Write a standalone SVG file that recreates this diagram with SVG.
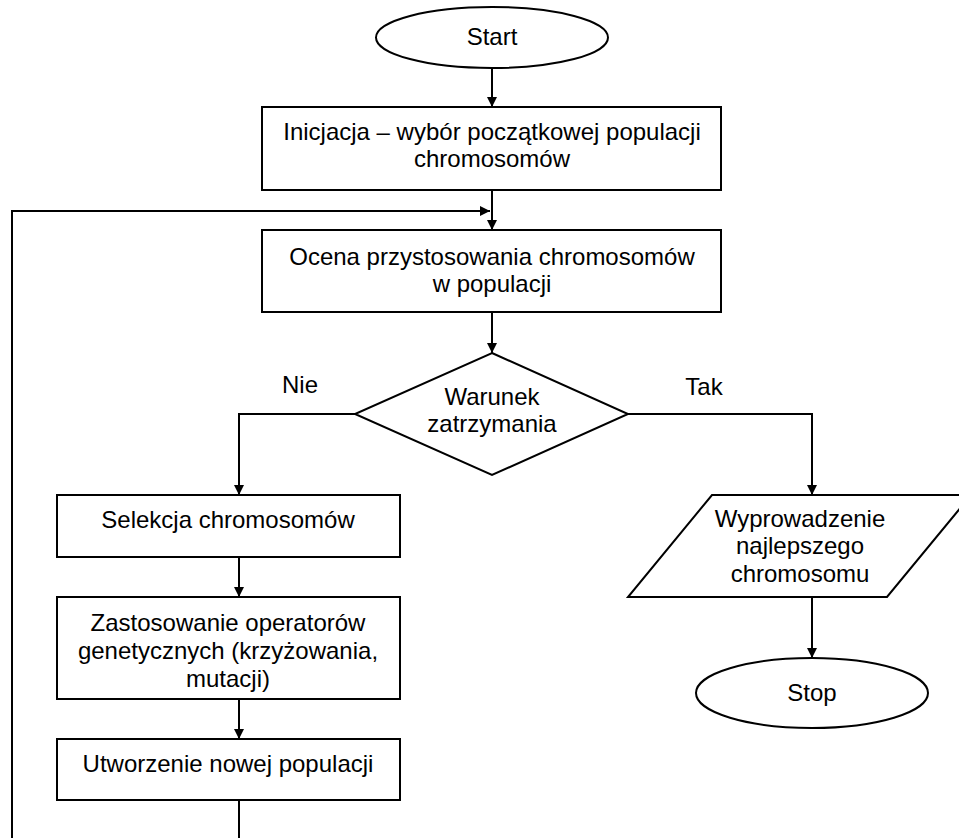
<svg xmlns="http://www.w3.org/2000/svg" width="959" height="838" viewBox="0 0 959 838">
<style>
.s{fill:#fff;stroke:#000;stroke-width:2}
.c{fill:none;stroke:#000;stroke-width:2}
text{font-family:"Liberation Sans",Arial,sans-serif;font-size:24px;fill:#000;text-anchor:middle}
</style>
<defs>
<marker id="a" viewBox="0 0 10 10" refX="10" refY="5" markerWidth="10" markerHeight="10" markerUnits="userSpaceOnUse" orient="auto">
<path d="M0,0 L10,5 L0,10 Z" fill="#000"/>
</marker>
</defs>
<rect width="959" height="838" fill="#fff"/>
<g id="connectors">
<line class="c" x1="492" y1="68" x2="492" y2="107" marker-end="url(#a)"/>
<line class="c" x1="492" y1="190" x2="492" y2="230" marker-end="url(#a)"/>
<polyline class="c" points="12,838 12,211 490,211" marker-end="url(#a)"/>
<line class="c" x1="492" y1="312" x2="492" y2="353" marker-end="url(#a)"/>
<polyline class="c" points="355,414 239,414 239,495" marker-end="url(#a)"/>
<polyline class="c" points="628,414 812,414 812,495" marker-end="url(#a)"/>
<line class="c" x1="239" y1="557" x2="239" y2="597" marker-end="url(#a)"/>
<line class="c" x1="239" y1="699" x2="239" y2="739" marker-end="url(#a)"/>
<line class="c" x1="239" y1="800" x2="239" y2="838"/>
<line class="c" x1="812" y1="597" x2="812" y2="658" marker-end="url(#a)"/>
<text x="300" y="393">Nie</text>
<text x="704" y="395">Tak</text>
</g>
<g id="start">
<ellipse class="s" cx="492" cy="37.5" rx="116" ry="30.5"/>
<text x="492" y="45">Start</text>
</g>
<g id="init">
<rect class="s" x="262" y="107" width="459" height="83"/>
<text x="492" y="140">Inicjacja – wybór początkowej populacji</text>
<text x="492" y="167">chromosomów</text>
</g>
<g id="ocena">
<rect class="s" x="262" y="230" width="459" height="82"/>
<text x="492" y="265">Ocena przystosowania chromosomów</text>
<text x="492" y="292">w populacji</text>
</g>
<g id="warunek">
<polygon class="s" points="492,353 628,414 492,475 355,414"/>
<text x="492" y="405">Warunek</text>
<text x="492" y="432">zatrzymania</text>
</g>
<g id="selekcja">
<rect class="s" x="57" y="495" width="343" height="62"/>
<text x="228" y="528">Selekcja chromosomów</text>
</g>
<g id="zastosowanie">
<rect class="s" x="57" y="597" width="343" height="102"/>
<text x="228" y="631">Zastosowanie operatorów</text>
<text x="228" y="659">genetycznych (krzyżowania,</text>
<text x="228" y="687">mutacji)</text>
</g>
<g id="utworzenie">
<rect class="s" x="57" y="739" width="343" height="61"/>
<text x="228" y="772">Utworzenie nowej populacji</text>
</g>
<g id="wyprowadzenie">
<polygon class="s" points="712,495 971,495 887,597 628,597"/>
<text x="800" y="527">Wyprowadzenie</text>
<text x="800" y="554">najlepszego</text>
<text x="800" y="582">chromosomu</text>
</g>
<g id="stop">
<ellipse class="s" cx="812" cy="693" rx="116" ry="35"/>
<text x="812" y="701">Stop</text>
</g>
</svg>
